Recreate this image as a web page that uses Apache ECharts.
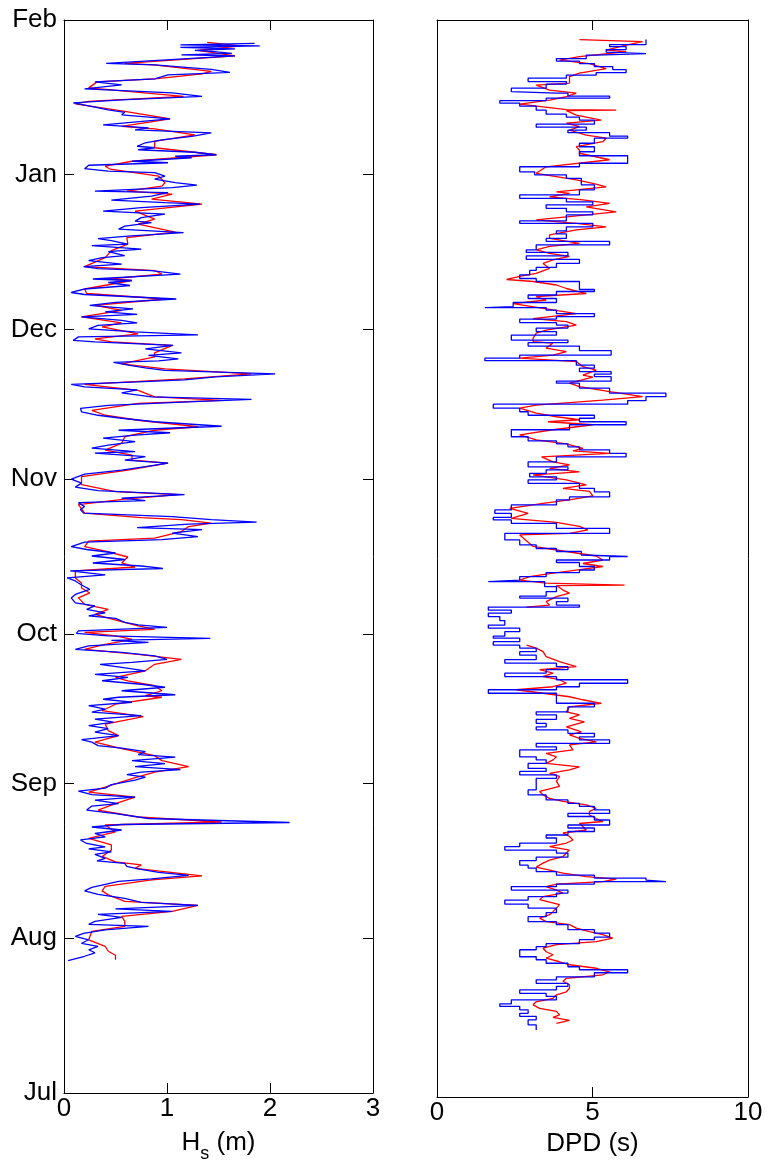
<!DOCTYPE html>
<html>
<head>
<meta charset="utf-8">
<script src="https://cdn.jsdelivr.net/npm/echarts@6/dist/echarts.min.js"></script>
<style>
html,body{margin:0;padding:0;background:#fff}
#chart{width:768px;height:1168px}
</style>
</head>
<body>
<div id="chart"></div>
<script>
// Time is counted in days from 1 July; month boundaries mark the vertical axis.
const monthDays = [0, 31, 62, 92, 123, 153, 184, 215];
const monthNames = ['Jul', 'Aug', 'Sep', 'Oct', 'Nov', 'Dec', 'Jan', 'Feb'];

// Significant wave height (m), observed, [day, Hs], latest first
const hsObserved = [
  [210.3,1.85],[210.0,1.13],[209.8,1.90],[209.5,1.13],[209.2,1.66],[208.9,1.27],[208.7,1.43],[208.3,1.63],[208.0,1.14],[207.8,1.66],
  [206.3,0.41],[206.0,0.88],[205.1,1.43],[204.5,1.61],[204.0,1.01],[203.2,0.88],[202.6,0.30],[202.0,0.56],[201.2,0.20],[200.4,1.05],
  [199.7,1.34],[199.0,0.56],[198.4,0.09],[197.8,0.24],[197.0,0.43],[196.5,0.59],[196.0,0.56],[195.2,1.03],[194.0,0.38],[193.4,0.82],
  [193.0,0.69],[192.4,1.43],[191.7,1.24],[191.0,0.95],[190.4,0.79],[189.7,0.71],[189.4,0.88],[189.0,0.72],[188.5,1.27],[188.0,1.48],
  [187.7,1.08],[187.4,1.24],[186.7,0.66],[186.4,1.01],[185.9,0.24],[185.2,0.20],[184.7,0.43],[184.4,0.88],[183.7,0.98],[183.1,0.88],
  [182.4,1.08],[181.9,1.29],[181.4,1.05],[180.7,0.30],[180.4,1.01],[179.7,0.85],[178.9,0.46],[178.4,0.98],[178.1,1.32],[177.4,0.75],
  [176.7,0.38],[176.1,0.98],[175.4,0.75],[174.7,0.69],[174.4,0.85],[173.7,0.59],[173.1,0.53],[172.4,1.16],[171.7,0.62],[171.2,0.33],
  [170.8,0.46],[170.1,0.62],[169.8,0.27],[169.1,0.75],[168.6,0.43],[167.8,0.59],[167.4,0.37],[166.8,0.24],[166.1,0.56],[165.6,0.19],
  [165.2,0.33],[164.8,0.85],[164.1,1.13],[163.1,0.28],[162.8,0.66],[162.4,0.43],[161.8,0.64],[161.1,0.20],[160.4,0.07],[160.0,0.20],
  [159.1,1.09],[158.4,0.50],[157.8,0.25],[157.1,0.67],[156.5,0.40],[156.0,0.71],[155.5,0.17],[154.8,0.56],[154.3,0.71],[153.8,0.33],
  [153.1,0.24],[152.5,0.69],[151.9,1.30],[151.5,0.14],[150.8,0.09],[150.5,0.30],[149.8,1.06],[149.1,0.79],[148.3,1.14],[147.8,0.82],
  [147.1,1.11],[146.7,0.92],[146.4,0.48],[145.8,0.64],[145.3,0.79],[144.8,0.98],[144.1,2.05],[143.5,1.47],[142.9,1.17],[142.5,0.72],
  [142.0,0.07],[141.5,0.20],[140.9,0.71],[140.3,0.56],[139.5,0.85],[139.0,1.82],[138.5,1.21],[137.8,0.43],[137.2,0.16],[136.5,0.17],
  [135.8,0.33],[135.2,0.56],[134.5,0.88],[133.6,1.53],[133.2,1.01],[132.8,0.53],[132.3,1.03],[131.8,0.69],[131.2,0.38],[130.5,0.69],
  [129.8,0.43],[129.2,0.27],[128.5,0.69],[128.2,0.30],[127.5,0.79],[126.8,0.59],[126.2,1.01],[125.5,0.79],[124.8,0.56],[124.0,0.20],
  [123.0,0.07],[122.2,0.17],[121.4,0.11],[120.7,0.33],[119.9,1.17],[119.2,0.56],[118.7,0.79],[118.3,0.14],[117.5,0.20],[116.9,0.16],
  [116.2,0.19],[115.5,1.05],[114.9,1.43],[114.4,1.87],[114.0,1.21],[113.3,0.71],[112.9,1.34],[112.2,1.05],[111.5,1.30],[110.9,0.95],
  [110.4,0.20],[109.5,0.07],[108.9,0.22],[108.2,0.50],[107.6,0.27],[106.9,0.59],[106.2,0.28],[105.6,0.75],[105.1,0.96],[104.6,0.06],
  [103.8,0.40],[103.2,0.03],[102.6,0.11],[101.8,0.17],[100.9,0.25],[99.9,0.11],[99.2,0.07],[98.2,0.11],[97.6,0.30],[96.9,0.22],
  [96.2,0.40],[95.6,0.24],[95.1,0.50],[94.3,0.59],[93.8,0.72],[93.3,1.00],[92.6,0.14],[92.1,0.12],[91.6,0.43],[91.1,1.42],
  [90.7,0.46],[90.3,0.82],[89.6,0.24],[88.9,0.11],[88.3,0.56],[87.6,0.88],[86.9,1.00],[86.3,0.66],[85.9,0.35],[85.3,0.56],
  [84.6,0.79],[83.9,0.30],[83.3,0.62],[82.6,0.37],[81.9,0.75],[81.3,0.98],[80.6,0.56],[79.8,1.08],[79.3,0.53],[78.9,0.38],
  [78.3,0.66],[77.6,0.24],[76.9,0.40],[76.3,0.27],[75.6,0.75],[74.9,0.30],[74.3,0.48],[73.6,0.24],[73.0,0.43],[72.3,0.30],
  [71.6,0.53],[70.8,0.17],[70.3,0.27],[69.6,0.33],[69.1,0.56],[68.4,0.79],[67.8,0.72],[67.3,1.08],[66.6,0.66],[66.0,0.98],
  [65.4,0.69],[64.8,1.13],[64.3,0.75],[63.8,0.61],[63.3,0.79],[62.7,0.69],[61.8,0.46],[61.1,0.40],[60.5,0.14],[59.8,0.27],
  [59.3,0.69],[58.7,0.30],[58.0,0.53],[57.5,0.27],[56.7,0.22],[56.0,0.50],[55.0,0.82],[54.2,2.19],[53.8,0.56],[53.3,0.27],
  [52.7,0.56],[52.0,0.30],[51.3,0.40],[50.7,0.16],[50.0,0.22],[49.3,0.40],[48.9,0.24],[48.3,0.46],[47.8,0.30],[47.0,0.40],
  [46.5,0.32],[46.0,0.59],[45.4,0.61],[44.9,0.72],[44.2,0.92],[43.6,1.21],[42.9,0.85],[42.4,0.53],[41.8,0.40],[41.2,0.27],
  [40.5,0.20],[39.8,0.33],[39.0,0.59],[38.2,0.75],[37.6,1.30],[36.9,0.50],[36.4,1.05],[35.8,0.33],[35.2,0.56],[34.4,0.30],
  [33.8,0.24],[33.4,0.82],[32.7,0.40],[32.0,0.19],[31.4,0.11],[30.7,0.24],[30.0,0.17],[29.4,0.33],[28.7,0.24],[28.1,0.30],
  [27.4,0.20],[26.5,0.04]
];

// Significant wave height (m), modelled, [day, Hs], latest first
const hsModel = [
  [210.5,1.39],[209.8,1.72],[208.9,1.30],[207.8,1.66],[206.3,0.59],[206.0,0.87],[204.7,1.43],[204.2,1.34],[203.2,0.88],[202.6,0.32],
  [201.4,0.24],[199.7,1.16],[198.7,0.24],[198.2,0.11],[196.7,0.59],[195.2,1.03],[193.7,0.56],[193.2,0.88],[192.0,1.27],[190.7,0.88],
  [189.4,0.88],[188.0,1.48],[186.7,0.66],[185.7,0.40],[185.1,0.45],[183.7,0.92],[182.4,0.98],[181.7,0.95],[180.7,0.61],[180.1,1.05],
  [179.1,0.85],[178.1,1.34],[176.7,0.69],[175.1,0.88],[174.1,0.72],[172.5,1.08],[171.4,0.61],[170.1,0.62],[168.8,0.46],[167.4,0.40],
  [165.6,0.20],[164.8,0.88],[164.1,0.95],[163.1,0.43],[162.8,0.66],[161.1,0.20],[160.2,0.22],[159.1,0.98],[157.8,0.30],[156.8,0.56],
  [155.5,0.17],[154.3,0.56],[153.5,0.37],[152.1,0.72],[151.1,0.30],[150.5,0.46],[149.8,1.05],[148.3,0.88],[147.5,0.88],[146.1,0.56],
  [145.1,0.98],[144.1,1.82],[143.1,1.17],[142.0,0.20],[140.8,0.72],[139.5,0.88],[138.8,1.53],[138.2,0.72],[136.8,0.27],[135.8,0.40],
  [134.8,0.72],[133.5,1.30],[132.8,0.88],[131.5,0.59],[130.2,0.56],[128.8,0.40],[127.8,0.66],[126.8,0.66],[126.2,1.01],[124.8,0.62],
  [123.5,0.17],[121.9,0.17],[120.5,0.50],[119.9,1.11],[119.0,0.59],[117.9,0.14],[116.2,0.20],[115.3,0.75],[114.9,1.14],[114.2,1.43],
  [113.5,1.21],[112.5,1.14],[111.2,0.88],[110.6,0.24],[109.5,0.20],[108.6,0.40],[107.4,0.62],[106.2,0.56],[105.4,0.69],[104.6,0.11],
  [103.2,0.11],[102.2,0.17],[101.2,0.17],[100.2,0.25],[99.2,0.14],[97.9,0.20],[96.9,0.43],[95.9,0.30],[94.6,0.53],[93.6,0.72],
  [92.9,0.88],[92.3,0.20],[91.6,0.50],[90.9,0.66],[89.9,0.40],[88.9,0.20],[87.9,0.72],[86.9,1.14],[85.9,0.88],[84.6,0.79],
  [83.3,0.50],[82.6,0.62],[81.6,0.88],[80.6,0.95],[79.6,0.79],[79.3,0.95],[77.9,0.50],[76.6,0.37],[75.4,0.77],[73.9,0.40],
  [72.6,0.43],[71.6,0.53],[70.3,0.30],[69.0,0.56],[67.6,0.88],[66.6,0.95],[65.4,1.21],[64.3,0.88],[63.0,0.66],[61.3,0.40],
  [60.3,0.24],[59.3,0.69],[58.0,0.50],[56.7,0.33],[55.3,0.72],[54.3,1.53],[53.7,0.40],[52.3,0.50],[51.0,0.24],[49.7,0.46],
  [48.7,0.46],[47.4,0.37],[46.3,0.50],[45.7,0.75],[45.0,0.69],[44.4,0.95],[43.5,1.34],[42.7,0.85],[41.4,0.40],[40.5,0.37],
  [39.7,0.43],[38.4,0.59],[37.6,1.30],[36.4,1.05],[35.4,0.56],[34.4,0.59],[33.4,0.59],[32.4,0.27],[30.7,0.24],[29.4,0.40],
  [28.4,0.43],[27.6,0.50],[26.7,0.50]
];

// Dominant wave period (s), observed: [day the value starts, DPD], earliest first
const dpdObserved = [
  [13.4,3.19],[14.4,2.93],[15.4,3.19],[16.1,2.66],[16.7,2.93],[17.4,2.66],[18.1,2.02],[18.6,2.39],[19.4,3.84],[20.1,3.51],
  [20.7,2.66],[21.4,3.84],[22.1,4.21],[22.7,3.19],[23.4,3.84],[24.0,5.06],[24.8,6.13],[25.4,4.58],[26.0,4.21],[26.7,3.51],
  [27.4,3.19],[28.0,2.66],[29.4,3.19],[30.0,3.51],[30.6,4.58],[31.4,5.06],[31.9,5.55],[32.7,5.06],[33.4,4.21],[34.4,3.84],
  [35.0,2.93],[36.0,3.51],[36.8,3.84],[37.7,2.93],[38.5,2.18],[39.3,2.93],[40.0,3.84],[40.7,4.21],[41.3,2.39],[42.0,3.84],
  [42.5,5.06],[43.0,7.36],[43.3,6.72],[43.7,5.06],[44.3,3.84],[45.0,3.19],[45.7,2.93],[46.3,2.66],[47.2,3.19],[47.9,4.21],
  [48.7,3.84],[49.3,2.18],[50.0,2.66],[50.7,3.84],[51.7,3.51],[52.3,4.21],[53.0,5.06],[53.7,4.21],[54.3,5.55],[55.3,5.06],
  [56.0,4.21],[56.6,5.55],[57.3,5.06],[58.0,4.58],[58.6,4.21],[59.3,3.51],[60.3,2.93],[61.3,3.19],[62.6,3.19],[63.6,3.84],
  [64.3,2.66],[65.0,3.51],[65.6,2.93],[66.6,3.51],[67.3,3.19],[67.9,2.66],[69.3,3.84],[69.9,3.19],[70.6,5.55],[71.3,4.58],
  [71.9,5.06],[72.6,4.21],[73.3,3.19],[73.9,3.51],[74.6,3.19],[75.4,3.84],[76.3,3.19],[76.9,4.21],[77.9,5.06],[78.6,3.84],
  [80.6,1.65],[81.3,3.84],[81.9,4.58],[82.6,6.13],[83.3,3.84],[83.9,2.18],[84.6,3.51],[85.3,4.21],[85.9,3.84],[86.6,2.18],
  [87.3,3.19],[88.2,2.66],[88.9,3.19],[89.6,2.66],[90.2,1.81],[90.9,2.66],[91.6,1.81],[92.0,2.18],[92.9,2.66],[93.6,1.65],
  [94.2,2.18],[95.1,2.02],[95.9,1.65],[96.6,2.39],[97.2,1.65],[97.8,4.58],[98.2,3.84],[98.9,4.21],[99.6,2.66],[100.0,3.51],
  [100.9,3.84],[101.9,3.46],[102.9,1.65],[103.2,2.66],[103.9,3.51],[104.7,4.58],[105.2,5.06],[105.9,4.58],[106.7,3.84],[107.2,5.55],
  [107.9,6.13],[108.2,4.64],[108.9,3.84],[109.5,3.19],[110.2,2.66],[111.2,2.18],[112.5,5.55],[113.5,3.84],[114.5,2.39],[115.2,1.81],
  [115.7,2.39],[116.5,1.86],[117.2,2.39],[118.2,3.84],[119.2,4.26],[119.8,5.55],[120.8,5.06],[121.5,4.58],[122.5,2.93],[123.2,3.84],
  [123.8,2.98],[124.5,3.51],[125.2,4.21],[125.8,2.93],[126.8,3.84],[127.8,6.08],[128.5,5.55],[129.2,4.58],[129.8,4.21],[130.4,3.84],
  [131.0,2.93],[131.8,2.39],[133.2,4.26],[134.2,6.08],[134.8,4.58],[135.5,5.06],[136.1,2.93],[136.8,2.66],[137.5,1.81],[138.3,6.13],
  [139.0,6.72],[139.8,7.36],[140.5,5.55],[141.5,4.58],[142.5,3.84],[142.9,5.60],[143.8,5.06],[144.3,5.60],[144.8,4.58],[145.5,5.06],
  [146.1,4.48],[147.0,1.54],[147.5,2.66],[148.1,5.60],[149.0,4.58],[149.9,2.93],[150.6,4.21],[151.1,2.39],[152.1,3.84],[152.8,3.19],
  [153.5,4.21],[154.1,3.84],[154.6,2.66],[155.3,3.84],[155.8,5.06],[156.4,3.84],[157.1,3.51],[157.6,1.54],[157.8,2.45],[158.6,3.84],
  [159.4,2.93],[160.1,3.84],[160.8,5.06],[161.2,4.58],[162.1,4.58],[162.8,3.19],[163.4,2.66],[164.1,2.98],[165.0,3.19],[165.6,3.84],
  [166.4,4.58],[167.2,2.87],[167.9,4.21],[168.6,2.87],[169.1,3.19],[170.1,5.55],[170.8,3.51],[171.4,4.16],[172.3,3.84],[172.9,4.16],
  [173.7,5.01],[174.4,2.66],[174.9,4.16],[176.1,5.01],[176.7,4.16],[177.4,3.51],[178.1,5.01],[178.7,4.16],[179.4,2.66],[180.1,4.58],
  [181.1,5.06],[182.1,4.64],[183.4,4.16],[184.1,3.14],[184.7,2.66],[185.7,4.58],[186.4,6.13],[187.9,4.58],[188.7,5.06],[189.7,4.58],
  [190.4,5.06],[191.4,6.13],[191.8,5.55],[192.5,4.21],[193.0,4.80],[193.6,3.19],[194.2,5.06],[195.0,4.58],[195.6,4.16],[196.2,3.51],
  [197.0,3.19],[197.8,2.66],[198.4,2.02],[198.9,3.51],[199.4,5.55],[199.8,4.21],[200.4,3.84],[200.7,2.39],[201.4,3.51],[202.2,4.16],
  [202.7,2.93],[203.4,4.16],[204.0,5.12],[204.5,6.08],[205.1,5.65],[205.7,5.06],[206.3,4.58],[206.8,3.84],[207.3,4.80],[208.0,5.12],
  [208.3,6.72],[208.6,5.44],[209.1,6.08],[209.7,5.55],[210.1,6.72]
];
const dpdObservedEnd = 211.1;

// Dominant wave period (s), modelled, [day, DPD], latest first; null marks a gap in the record
const dpdModel = [
  [211.1,4.58],[210.7,6.61],[210.0,6.08],[209.0,5.44],[208.7,6.08],[207.7,4.58],[207.0,3.94],[206.3,4.90],[205.3,5.44],[204.4,4.58],
  [203.7,4.26],[202.4,4.26],[202.0,3.19],[201.0,3.62],[200.4,4.48],[199.7,4.16],[199.0,3.62],[198.2,2.66],[197.1,4.16],[197.0,5.76],
  [196.9,4.16],[196.0,4.48],[195.0,5.28],[194.4,4.16],[193.7,4.58],[193.0,4.26],[192.0,4.80],[191.4,5.44],[190.7,5.33],[189.7,4.48],
  [189.0,4.58],[188.4,4.58],[187.1,5.55],[185.7,3.51],[184.4,3.19],[183.1,4.48],[182.4,5.01],[181.7,5.44],[180.7,3.84],[180.4,4.26],
  [179.7,3.62],[179.1,4.69],[178.4,5.55],[177.7,4.80],[176.7,5.76],[175.7,4.16],[175.1,3.19],[174.4,4.48],[173.7,5.44],[173.1,4.48],
  [172.1,3.62],[171.4,3.62],[170.4,4.58],[169.8,3.62],[169.1,3.19],[168.4,3.62],[167.8,4.26],[167.1,3.73],[166.4,3.41],[165.4,3.62],
  [164.4,3.19],[163.8,2.66],[163.2,2.24],[162.8,3.09],[162.1,3.84],[161.4,4.16],[160.4,4.80],[159.8,3.19],[159.1,3.51],[158.4,2.45],
  [156.4,4.48],[155.4,3.09],[154.8,4.16],[154.1,4.48],[153.1,3.51],[152.5,3.19],[151.5,3.09],[150.8,3.09],[150.5,3.73],[149.5,3.51],
  [148.8,4.16],[148.1,3.73],[147.5,2.66],[146.8,4.48],[145.8,4.69],[145.1,5.12],[144.1,4.69],[143.7,5.01],[142.5,4.26],[141.8,4.58],
  [140.8,5.55],[139.8,6.61],[139.1,5.33],[138.1,3.19],[137.5,2.66],[136.5,3.19],[135.8,3.84],[135.2,4.58],[134.8,3.57],[134.2,5.01],
  [133.2,3.73],[132.2,2.66],[131.2,3.19],[130.4,4.16],[129.5,4.69],[129.0,4.37],[128.5,5.55],[127.8,3.36],[126.8,3.73],[126.2,4.26],
  [125.5,3.62],[124.8,4.58],[124.2,3.09],[123.2,4.16],[122.2,4.80],[121.5,4.05],[120.9,4.90],[120.0,5.01],[119.2,4.26],[118.5,3.41],
  [117.5,2.34],[116.5,2.93],[115.5,2.39],[114.7,3.84],[113.9,4.58],[113.2,4.85],[112.5,4.26],[112.2,2.66],[109.9,3.09],[109.2,3.84],
  [108.5,4.58],[108.0,5.12],[107.2,5.33],[106.5,4.69],[105.9,5.33],[105.2,4.48],[104.6,3.73],[103.9,2.98],[103.2,2.66],[102.6,3.51],
  [102.2,6.03],[102.1,3.84],[101.2,4.05],[100.6,4.26],[99.9,3.84],[98.9,3.51],[98.2,3.62],[97.8,2.88],null,
  [90.2,2.88],[89.6,3.19],[88.9,3.41],[87.9,3.51],[86.9,3.94],[86.3,4.26],[85.9,4.48],[85.3,3.30],[84.6,3.73],[83.9,3.41],
  [83.3,3.94],[82.6,4.16],[81.9,3.73],[81.3,2.55],[80.6,3.41],[79.9,4.26],[79.3,4.69],[78.6,5.28],[77.9,4.26],[76.9,4.16],
  [76.3,4.58],[75.6,4.26],[74.9,4.74],[73.9,4.16],[72.9,4.64],[72.3,4.26],[71.6,4.58],[70.9,5.12],[70.3,4.26],[69.3,4.37],
  [68.6,3.51],[67.9,3.84],[67.3,3.73],[66.6,3.51],[65.9,4.58],[65.3,4.26],[64.6,3.62],[64.0,3.94],[63.0,3.84],[62.0,3.94],
  [61.0,3.30],[60.3,3.41],[59.6,3.62],[59.0,4.05],[58.3,4.80],[57.6,5.12],[57.0,4.90],[56.3,4.90],[55.6,5.12],[55.0,5.33],
  [54.6,4.58],[54.0,4.69],[53.3,4.80],[52.7,4.05],[52.0,4.26],[51.3,4.37],[50.7,4.16],[50.0,3.62],[49.3,4.26],[48.7,4.16],
  [48.0,4.05],[47.3,3.62],[46.7,3.41],[45.9,3.19],[45.3,3.62],[44.7,4.05],[44.0,4.80],[43.5,5.76],[43.0,5.33],[42.5,3.84],
  [42.0,3.51],[41.3,3.84],[40.7,4.05],[40.0,3.41],[39.4,3.30],[38.4,3.94],[37.7,3.84],[37.0,3.73],[36.4,3.62],[35.7,3.30],
  [35.0,3.51],[34.4,4.26],[33.7,4.48],[33.0,4.90],[32.4,5.33],[31.7,5.65],[31.0,5.12],[30.4,3.84],[29.7,3.41],[29.0,3.51],
  [28.4,3.73],[27.7,3.51],[27.0,3.94],[26.4,4.26],[25.7,5.12],[25.0,5.55],[24.4,5.33],[23.7,4.16],[23.1,4.05],[22.4,4.26],
  [21.7,4.26],[21.0,4.16],[20.4,3.84],[19.7,3.73],[19.0,3.19],[18.4,3.09],[17.7,3.30],[17.1,3.84],[16.4,3.94],[15.9,3.73],
  [15.3,4.26],[14.7,3.84]
];

const hsTicks = [0, 1, 2, 3];
const dpdTicks = [0, 5, 10];

// [day, value] -> [value, day] so time runs up the vertical axis
const toXY = rows => rows.map(r => (r === null ? ['-', '-'] : [r[1], r[0]]));

// Each observed period holds until the next change
function holdSteps(changes, endDay) {
  const pts = [];
  changes.forEach(([d, v], i) => {
    const next = i < changes.length - 1 ? changes[i + 1][0] : endDay;
    pts.push([v, d], [v, next]);
  });
  return pts;
}

const FONT = "'Liberation Sans', Arial, Helvetica, sans-serif";
const FS = 26;
const monthLabel = v => {
  const i = monthDays.indexOf(Math.round(v));
  return i >= 0 ? monthNames[i] : '';
};

function timeAxis(gridIndex, position, showLabels, showTicks) {
  return {
    type: 'value', gridIndex, position, min: 0, max: 215,
    axisLine: { show: true, onZero: false, lineStyle: { color: '#000', width: 1 } },
    axisTick: { show: showTicks, inside: true, length: 10, customValues: monthDays, lineStyle: { color: '#000', width: 1 } },
    axisLabel: {
      show: showLabels, customValues: monthDays, formatter: monthLabel, showMinLabel: true, showMaxLabel: true,
      color: '#000', fontSize: FS, fontFamily: FONT, margin: 7
    },
    splitLine: { show: false }
  };
}

function valueAxis(gridIndex, position, max, interval, ticks, name) {
  const bottom = position === 'bottom';
  return {
    type: 'value', gridIndex, position, min: 0, max, interval,
    axisLine: { show: true, onZero: false, lineStyle: { color: '#000', width: 1 } },
    axisTick: { show: true, inside: true, length: 10, customValues: ticks, lineStyle: { color: '#000', width: 1 } },
    axisLabel: {
      show: bottom, customValues: ticks, showMinLabel: true, showMaxLabel: true,
      color: '#000', fontSize: FS, fontFamily: FONT, margin: 3
    },
    splitLine: { show: false },
    name: bottom ? name : '',
    nameLocation: 'middle',
    nameGap: 30,
    nameTextStyle: {
      color: '#000', fontSize: FS, fontFamily: FONT,
      rich: {
        n: { fontSize: FS, fontFamily: FONT, color: '#000' },
        s: { fontSize: 18, fontFamily: FONT, color: '#000', padding: [22, 0, 0, 0] }
      }
    }
  };
}

const chart = echarts.init(document.getElementById('chart'), null, { renderer: 'canvas' });

chart.setOption({
  animation: false,
  backgroundColor: '#fff',
  grid: [
    { left: 64, top: 20, width: 309, height: 1077, containLabel: false },
    { left: 437, top: 20, width: 311, height: 1077, containLabel: false }
  ],
  xAxis: [
    valueAxis(0, 'bottom', 3, 1, hsTicks, '{n|H}{s|s}{n| (m)}'),
    valueAxis(0, 'top', 3, 1, hsTicks, ''),
    valueAxis(1, 'bottom', 10, 5, dpdTicks, '{n|DPD (s)}'),
    valueAxis(1, 'top', 10, 5, dpdTicks, '')
  ],
  yAxis: [
    timeAxis(0, 'left', true, true),
    timeAxis(0, 'right', false, true),
    timeAxis(1, 'left', false, false),
    timeAxis(1, 'right', false, false)
  ],
  series: [
    {
      name: 'Hs model', type: 'line', xAxisIndex: 0, yAxisIndex: 0,
      data: toXY(hsModel), showSymbol: false, symbol: 'none', connectNulls: false,
      lineStyle: { color: '#ff0000', width: 1.3 }, z: 2
    },
    {
      name: 'Hs observed', type: 'line', xAxisIndex: 0, yAxisIndex: 0,
      data: toXY(hsObserved), showSymbol: false, symbol: 'none',
      lineStyle: { color: '#0000ff', width: 1.3 }, z: 3
    },
    {
      name: 'DPD model', type: 'line', xAxisIndex: 2, yAxisIndex: 2,
      data: toXY(dpdModel), showSymbol: false, symbol: 'none', connectNulls: false,
      lineStyle: { color: '#ff0000', width: 1.3 }, z: 2
    },
    {
      name: 'DPD observed', type: 'line', xAxisIndex: 2, yAxisIndex: 2,
      data: holdSteps(dpdObserved, dpdObservedEnd), showSymbol: false, symbol: 'none',
      lineStyle: { color: '#0000ff', width: 1.3 }, z: 3
    }
  ]
});
</script>
</body>
</html>
